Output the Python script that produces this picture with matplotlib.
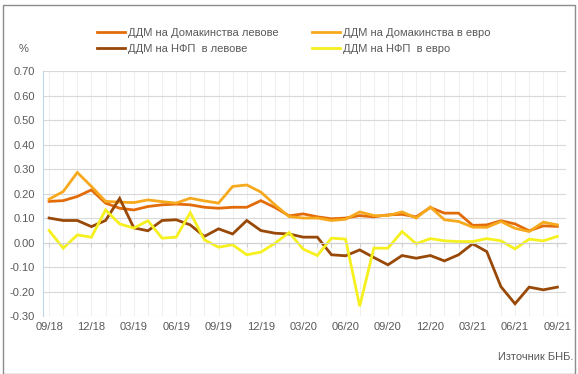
import matplotlib.pyplot as plt
import numpy as np
from matplotlib.patches import Rectangle

# monthly, 09/18 .. 09/21
months = ['09/18', '10/18', '11/18', '12/18', '01/19', '02/19', '03/19', '04/19', '05/19',
          '06/19', '07/19', '08/19', '09/19', '10/19', '11/19', '12/19', '01/20', '02/20',
          '03/20', '04/20', '05/20', '06/20', '07/20', '08/20', '09/20', '10/20', '11/20',
          '12/20', '01/21', '02/21', '03/21', '04/21', '05/21', '06/21', '07/21', '08/21', '09/21']

hh_bgn = [0.168, 0.171, 0.188, 0.215, 0.161, 0.140, 0.133, 0.147, 0.154, 0.157, 0.154, 0.144,
          0.140, 0.144, 0.144, 0.171, 0.143, 0.109, 0.117, 0.105, 0.097, 0.100, 0.110, 0.105,
          0.113, 0.115, 0.105, 0.143, 0.120, 0.120, 0.070, 0.072, 0.089, 0.076, 0.048, 0.068, 0.066]
hh_eur = [0.177, 0.208, 0.286, 0.229, 0.168, 0.165, 0.163, 0.174, 0.167, 0.161, 0.181, 0.170,
          0.161, 0.229, 0.235, 0.206, 0.154, 0.106, 0.100, 0.100, 0.090, 0.095, 0.125, 0.110,
          0.110, 0.125, 0.100, 0.145, 0.093, 0.086, 0.063, 0.062, 0.086, 0.058, 0.045, 0.083, 0.072]
nfp_bgn = [0.100, 0.090, 0.090, 0.065, 0.090, 0.180, 0.060, 0.048, 0.090, 0.093, 0.072, 0.025,
           0.056, 0.035, 0.090, 0.049, 0.038, 0.035, 0.022, 0.022, -0.050, -0.054, -0.030, -0.061,
           -0.091, -0.053, -0.064, -0.053, -0.075, -0.050, -0.005, -0.037, -0.180, -0.250, -0.182,
           -0.193, -0.182]
nfp_eur = [0.049, -0.023, 0.031, 0.022, 0.133, 0.076, 0.059, 0.089, 0.018, 0.022, 0.122, 0.011,
           -0.019, -0.009, -0.050, -0.039, -0.003, 0.041, -0.027, -0.053, 0.018, 0.014, -0.260,
           -0.023, -0.023, 0.045, -0.005, 0.016, 0.007, 0.004, 0.004, 0.016, 0.007, -0.026, 0.014,
           0.007, 0.025]

labels = ['ДДМ на Домакинства левове', 'ДДМ на Домакинства в евро',
          'ДДМ на НФП  в левове', 'ДДМ на НФП  в евро']
colors = ['#E36C0A', '#F7A91E', '#984807', '#F5F01E']

plt.rcParams['font.family'] = ['Liberation Sans', 'DejaVu Sans']

fig = plt.figure(figsize=(5.78, 3.74), dpi=100)
ax = fig.add_axes([0.0744, 0.155, 0.9046, 0.655])
fig.patches.append(Rectangle((0.005, 0.0), 0.99, 0.987, transform=fig.transFigure,
                             fill=False, edgecolor='#8C8C8C', linewidth=1.0))

x = np.arange(len(months))
series = [hh_bgn, hh_eur, nfp_bgn, nfp_eur]
lines = []
for vals, lab, col in zip(series, labels, colors):
    ln, = ax.plot(x, vals, color=col, linewidth=2.0, label=lab, solid_joinstyle='miter')
    lines.append(ln)

ax.set_ylim(-0.30, 0.70)
ax.set_xlim(-0.43, 36.6)
ax.set_yticks(np.arange(-0.3, 0.71, 0.1))
ax.set_yticklabels(['%.2f' % v for v in np.arange(-0.3, 0.71, 0.1)])
ax.set_xticks(x)
ax.set_xticklabels([m if i % 3 == 0 else '' for i, m in enumerate(months)])

ax.grid(axis='y', color='#D9D9D9', linewidth=0.8)
ax.grid(axis='x', color='#EDEDED', linewidth=0.6)
ax.set_axisbelow(True)

for s in ['right', 'bottom']:
    ax.spines[s].set_visible(False)
ax.spines['left'].set_color('#BDD7EE')
ax.spines['top'].set_position(('data', 0))
ax.spines['top'].set_color('#D0D0D0')
ax.tick_params(axis='x', bottom=False, top=True, direction='in', length=3,
               color='#D0D0D0', labelsize=8, labelcolor='#595959', pad=4)
ax.tick_params(axis='y', length=0, labelsize=8, labelcolor='#595959', pad=6)

fig.text(0.032, 0.868, '%', fontsize=8, color='#595959', ha='left', va='center')
# legend fills column-wise: order so rows read Домакинства / НФП
order = [0, 2, 1, 3]
fig.legend(handles=[lines[i] for i in order], labels=[labels[i] for i in order],
           loc='upper left', bbox_to_anchor=(0.167, 0.925), ncol=2, frameon=False,
           fontsize=8, labelcolor='#595959', handlelength=2.6, handletextpad=0.2,
           columnspacing=3.0, labelspacing=0.55, borderaxespad=0, borderpad=0)
fig.text(0.992, 0.045, 'Източник БНБ.', fontsize=8, color='#595959', ha='right', va='center')

fig.savefig('out.png', dpi=100)
